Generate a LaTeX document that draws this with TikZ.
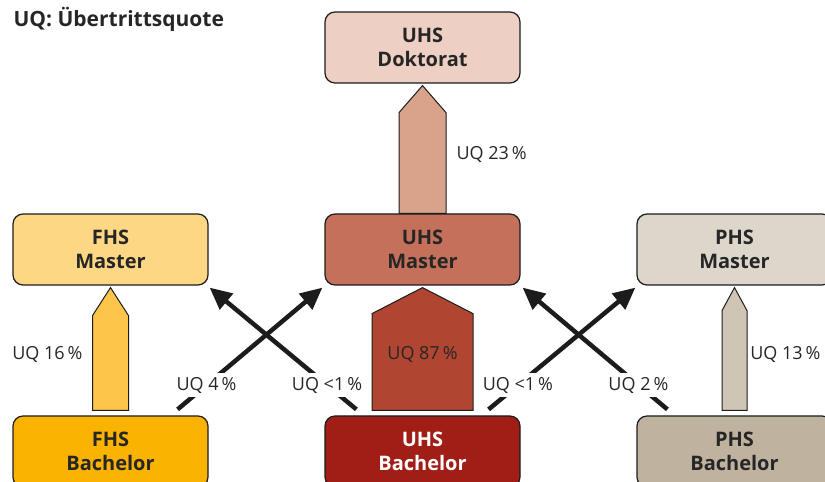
\documentclass[tikz,border=0pt]{standalone}
\usepackage{fontspec}
\setmainfont{Open Sans}
\usetikzlibrary{positioning, calc, arrows.meta}

\definecolor{linecol}{HTML}{1C1C1C}
\definecolor{textcol}{HTML}{262626}
\definecolor{dokbox}{HTML}{EDCFC3}
\definecolor{dokflow}{HTML}{D9A28A}
\definecolor{uhsmaster}{HTML}{C4705A}
\definecolor{uhsflow}{HTML}{B04532}
\definecolor{uhsbachelor}{HTML}{A01E16}
\definecolor{fhsmaster}{HTML}{FDD784}
\definecolor{fhsflow}{HTML}{FDC54A}
\definecolor{fhsbachelor}{HTML}{F9B300}
\definecolor{phsmaster}{HTML}{DDD6CA}
\definecolor{phsflow}{HTML}{CFC5B5}
\definecolor{phsbachelor}{HTML}{BFB3A0}

\tikzset{
  stage/.style={draw=linecol, line width=1.2pt, rounded corners=10pt,
    minimum width=195pt, minimum height=71pt, align=center,
    font=\bfseries\fontsize{20}{24}\selectfont, text=textcol},
  flow/.style={draw=linecol, line width=1pt},
  cross/.style={draw=linecol, line width=4.5pt, -{Triangle[length=22pt,width=20pt]}},
  quote/.style={font=\fontsize{18}{21}\selectfont, text=textcol},
  onquote/.style={quote, fill=white, inner sep=4pt, pos=0.2}
}

% block arrow: from, to, width, head, gap, fill
\newcommand{\upflow}[6]{%
  \path[flow, fill=#6] let \p1=(#1.north), \p2=(#2.south) in
    ({\x1-#3pt/2},{\y1+#5pt}) -- ({\x1-#3pt/2},{\y2-2pt-#4pt}) -- (\x1,{\y2-2pt})
    -- ({\x1+#3pt/2},{\y2-2pt-#4pt}) -- ({\x1+#3pt/2},{\y1+#5pt}) -- cycle;}

\begin{document}
\begin{tikzpicture}[x=1pt, y=1pt]
  \useasboundingbox (0,0) rectangle (825,482);
  \clip (0,0) rectangle (825,482);

  \node[anchor=base west, font=\bfseries\fontsize{21}{25}\selectfont, text=textcol]
    (title) at (10,455) {UQ: Übertrittsquote};

  % stages
  \node[stage, fill=dokbox] (dok) at (422.5,434.5) {UHS\\Doktorat};
  \node[stage, fill=fhsmaster] (fhsM) at (110.5,232.5) {FHS\\Master};
  \node[stage, fill=uhsmaster] (uhsM) at (422.5,232.5) {UHS\\Master};
  \node[stage, fill=phsmaster] (phsM) at (734.5,232.5) {PHS\\Master};
  \node[stage, fill=fhsbachelor] (fhsB) at (110.5,30.5) {FHS\\Bachelor};
  \node[stage, fill=uhsbachelor, text=white] (uhsB) at (422.5,30.5) {UHS\\Bachelor};
  \node[stage, fill=phsbachelor] (phsB) at (734.5,30.5) {PHS\\Bachelor};

  % straight transitions
  \upflow{uhsM}{dok}{47}{27}{0}{dokflow}
  \upflow{fhsB}{fhsM}{36}{28}{5}{fhsflow}
  \upflow{uhsB}{uhsM}{101}{26}{5}{uhsflow}
  \upflow{phsB}{phsM}{25}{23}{5}{phsflow}

  \node[quote, anchor=west] (q23) at (453,327) {UQ 23\,\%};
  \node[quote, anchor=east] (q16) at (86,127) {UQ 16\,\%};
  \node[quote] (q87) at (422.5,127) {UQ 87\,\%};
  \node[quote, anchor=east] (q13) at (824,127) {UQ 13\,\%};

  % crossing transitions
  \draw[cross] ($(fhsB.north east)+(-31,6)$) -- node[onquote] (q4) {UQ 4\,\%}
    ($(uhsM.south west)+(-2,-2)$);
  \draw[cross] ($(uhsB.north west)+(32,6)$) -- node[onquote] (q1a) {UQ <1\,\%}
    ($(fhsM.south east)+(1,-2)$);
  \draw[cross] ($(uhsB.north east)+(-32,6)$) -- node[onquote] (q1b) {UQ <1\,\%}
    ($(phsM.south west)+(-1,-2)$);
  \draw[cross] ($(phsB.north west)+(31,6)$) -- node[onquote] (q2) {UQ 2\,\%}
    ($(uhsM.south east)+(2,-2)$);
\end{tikzpicture}
\end{document}
